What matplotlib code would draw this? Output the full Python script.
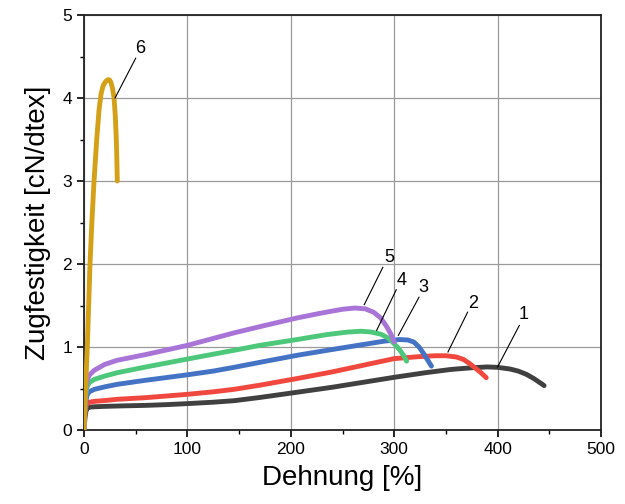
import matplotlib
matplotlib.use("Agg")
import matplotlib.pyplot as plt
from matplotlib.ticker import MultipleLocator

plt.rcParams['font.family'] = ['Liberation Sans', 'DejaVu Sans']

# Curve data (Dehnung %, Zugfestigkeit cN/dtex)
x1 = [0, 0.5, 1, 2, 3, 5, 10, 20, 35, 60, 80, 100, 125, 145, 170, 206, 240, 270, 300, 330, 355, 375, 390, 400, 412, 420, 428, 435, 441, 445]
y1 = [0, 0.08, 0.16, 0.23, 0.26, 0.275, 0.28, 0.285, 0.29, 0.297, 0.306, 0.318, 0.335, 0.353, 0.392, 0.455, 0.515, 0.575, 0.635, 0.69, 0.73, 0.75, 0.76, 0.755, 0.735, 0.71, 0.67, 0.62, 0.57, 0.535]

x2 = [0, 0.5, 1, 2, 3, 5, 10, 20, 32, 60, 100, 125, 145, 170, 206, 240, 270, 300, 325, 340, 350, 360, 367, 373, 379, 384, 389]
y2 = [0, 0.1, 0.2, 0.29, 0.32, 0.335, 0.345, 0.355, 0.37, 0.39, 0.43, 0.46, 0.49, 0.54, 0.62, 0.70, 0.78, 0.86, 0.885, 0.895, 0.895, 0.88, 0.85, 0.80, 0.74, 0.69, 0.63]

x3 = [0, 0.5, 1, 2, 3, 5, 10, 20, 32, 60, 100, 125, 145, 170, 206, 240, 270, 290, 305, 313, 319, 324, 328, 332, 336]
y3 = [0, 0.12, 0.24, 0.36, 0.42, 0.46, 0.49, 0.52, 0.55, 0.60, 0.665, 0.71, 0.755, 0.815, 0.90, 0.97, 1.03, 1.07, 1.09, 1.085, 1.06, 1.00, 0.93, 0.85, 0.77]

x4 = [0, 0.5, 1, 2, 3, 5, 10, 20, 32, 60, 100, 145, 170, 206, 235, 255, 268, 278, 287, 294, 300, 305, 309, 312]
y4 = [0, 0.15, 0.3, 0.45, 0.52, 0.57, 0.61, 0.65, 0.69, 0.76, 0.855, 0.96, 1.02, 1.09, 1.15, 1.18, 1.19, 1.18, 1.155, 1.11, 1.04, 0.97, 0.90, 0.83]

x5 = [0, 0.5, 1, 2, 3, 5, 10, 20, 32, 60, 100, 145, 175, 206, 230, 250, 262, 272, 280, 287, 293, 297, 300]
y5 = [0, 0.18, 0.35, 0.52, 0.60, 0.66, 0.72, 0.79, 0.84, 0.91, 1.02, 1.17, 1.26, 1.35, 1.41, 1.455, 1.47, 1.46, 1.42, 1.35, 1.24, 1.15, 1.06]

x6 = [0, 1.5, 3.2, 4.5, 5.8, 7.6, 9.7, 12.3, 14.5, 16.5, 18.5, 21, 23, 24.5, 26, 27.5, 29, 30.2, 31.1, 31.7, 32.2]
y6 = [0, 0.5, 1.0, 1.5, 2.0, 2.5, 3.0, 3.5, 3.85, 4.05, 4.15, 4.2, 4.22, 4.22, 4.19, 4.12, 4.01, 3.8, 3.55, 3.3, 3.0]

series_x = [x1, x2, x3, x4, x5, x6]
series_y = [y1, y2, y3, y4, y5, y6]
colors = ['#404040', '#F0483E', '#4472C4', '#4DC77A', '#A974D8', '#D4A017']

# Curve labels: text position and leader line (start, end)
labels = ['1', '2', '3', '4', '5', '6']
label_x = [425, 376, 328, 307.5, 295, 54]
label_y = [1.39, 1.53, 1.72, 1.80, 2.08, 4.60]
lead_x0 = [421, 371, 324, 302, 289, 50]
lead_y0 = [1.26, 1.42, 1.60, 1.69, 1.96, 4.48]
lead_x1 = [400, 352, 304, 283, 271, 30]
lead_y1 = [0.76, 0.94, 1.14, 1.20, 1.51, 4.0]

fig = plt.figure(figsize=(6.25, 5.04), dpi=100)
ax = fig.add_axes([0.1344, 0.1468, 0.8272, 0.8234])

for xs, ys, c in zip(series_x, series_y, colors):
    ax.plot(xs, ys, color=c, lw=3.5, solid_capstyle='round', solid_joinstyle='round', zorder=3)

for lab, tx, ty, ax0, ay0, ax1, ay1 in zip(labels, label_x, label_y, lead_x0, lead_y0, lead_x1, lead_y1):
    ax.plot([ax0, ax1], [ay0, ay1], color='black', lw=0.8, zorder=4)
    ax.text(tx, ty, lab, fontsize=13, ha='center', va='center', zorder=5)

ax.set_xlim(0, 500)
ax.set_ylim(0, 5)
ax.xaxis.set_major_locator(MultipleLocator(100))
ax.xaxis.set_minor_locator(MultipleLocator(50))
ax.yaxis.set_major_locator(MultipleLocator(1))
ax.yaxis.set_minor_locator(MultipleLocator(0.5))
ax.tick_params(which='major', direction='out', length=5, width=1.2, labelsize=12.5)
ax.tick_params(which='minor', direction='out', length=3, width=1.0)
ax.grid(True, which='major', color='#9a9a9a', lw=0.9, zorder=0)
ax.set_axisbelow(True)
for s in ax.spines.values():
    s.set_linewidth(1.3)
    s.set_color('#222222')

ax.set_xlabel('Dehnung [%]', fontsize=20, labelpad=6)
ax.set_ylabel('Zugfestigkeit [cN/dtex]', fontsize=20, labelpad=8)

fig.savefig('out.png', dpi=100)
